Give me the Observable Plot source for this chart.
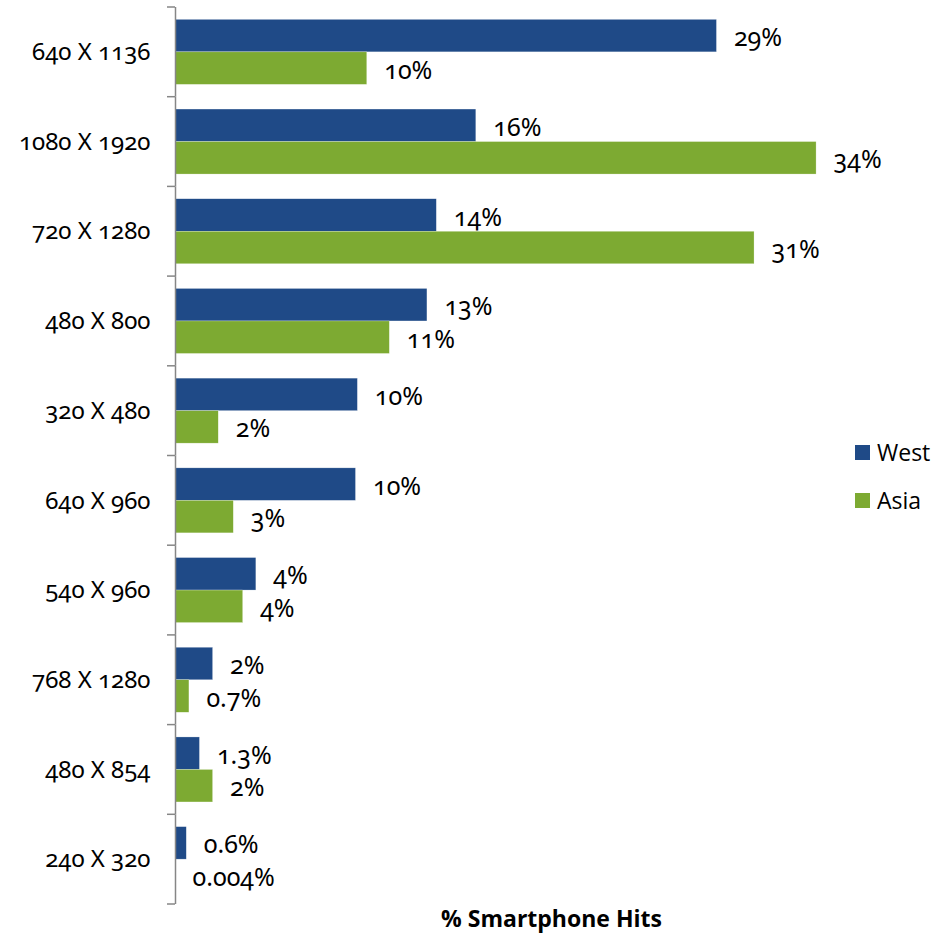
<!DOCTYPE html>
<html><head><meta charset="utf-8">
<script src="https://cdn.jsdelivr.net/npm/d3@7"></script>
<script src="https://cdn.jsdelivr.net/npm/@observablehq/plot@0.6"></script>
<style>
body{margin:0;background:#fff;}
#wrap{position:relative;width:937px;height:938px;}
#wrap svg{font-variant-numeric:oldstyle-nums;}
.leg{position:absolute;left:855px;font-family:"Open Sans",sans-serif;font-size:23px;color:#000;display:flex;align-items:center;}
.leg span.sw{display:inline-block;width:15px;height:15px;margin-right:7px;}
</style></head><body><div id="wrap"></div>
<script>
const categories = ["640 X 1136","1080 X 1920","720 X 1280","480 X 800","320 X 480","640 X 960","540 X 960","768 X 1280","480 X 854","240 X 320"];
const series = ["West","Asia"];
const westValues = [28.8, 16.0, 13.9, 13.4, 9.7, 9.6, 4.3, 2.0, 1.3, 0.6];
const asiaValues = [10.2, 34.1, 30.8, 11.4, 2.3, 3.1, 3.6, 0.74, 2.0, 0.004];
const westLabels = ["29%","16%","14%","13%","10%","10%","4%","2%","1.3%","0.6%"];
const asiaLabels = ["10%","34%","31%","11%","2%","3%","4%","0.7%","2%","0.004%"];
const colors = ["#1F4A87","#7DAA32"];
const axisTitle = "% Smartphone Hits";

const data = categories.flatMap((c, i) => [
  {cat: c, series: "West", value: westValues[i], label: westLabels[i]},
  {cat: c, series: "Asia", value: asiaValues[i], label: asiaLabels[i]}
]);

const font = '"Noto Sans", sans-serif';
const plot = Plot.plot({
  width: 937, height: 938,
  marginLeft: 175, marginRight: 10, marginTop: 7, marginBottom: 34,
  style: {fontFamily: font, fontSize: "24px", color: "#000", background: "#fff"},
  x: {domain: [0, 40], axis: null},
  fy: {domain: categories, padding: 0, round: false, label: null},
  y: {domain: series, paddingInner: 0, paddingOuter: 0.38, round: false, axis: null},
  color: {domain: series, range: colors},
  marks: [
    Plot.axisFy({anchor: "left", tickSize: 0, tickPadding: 25, fontSize: 24, label: null}),
    Plot.barX(data, {fy: "cat", y: "series", x: "value", fill: "series", stroke: "#fff", strokeOpacity: 0.5, strokeWidth: 0.5}),
    Plot.text(data, {fy: "cat", y: "series", x: "value", text: "label", textAnchor: "start", dx: 17, dy: 2, fontSize: 25}),
    Plot.ruleX([0], {stroke: "#868686", strokeWidth: 1.5}),
    Plot.text([axisTitle], {fy: [categories[categories.length - 1]], frameAnchor: "bottom", dy: 22, fontWeight: "bold", fontSize: 23, fontFamily: '"Open Sans", sans-serif'})
  ]
});

// boundary ticks on the category axis, from the plot's own scales
const fy = plot.scale("fy");
const x0 = plot.scale("x").apply(0);
const svg = d3.select(plot);
const bounds = [];
categories.forEach((c, i) => { const s = fy.apply(c); if (i === 0) bounds.push(s); bounds.push(s + fy.bandwidth); });
svg.append("g").selectAll("line").data(bounds).join("line")
  .attr("x1", x0 - 8).attr("x2", x0).attr("y1", d => d).attr("y2", d => d)
  .attr("stroke", "#868686").attr("stroke-width", 1.5);

const wrap = document.getElementById("wrap");
wrap.appendChild(plot);
const legY = [452, 500];
series.forEach((s, i) => {
  const d = document.createElement("div");
  d.className = "leg";
  d.style.top = (legY[i] - 15) + "px";
  d.style.height = "30px";
  d.innerHTML = `<span class="sw" style="background:${colors[i]}"></span>${s}`;
  wrap.appendChild(d);
});
</script>
</body></html>
